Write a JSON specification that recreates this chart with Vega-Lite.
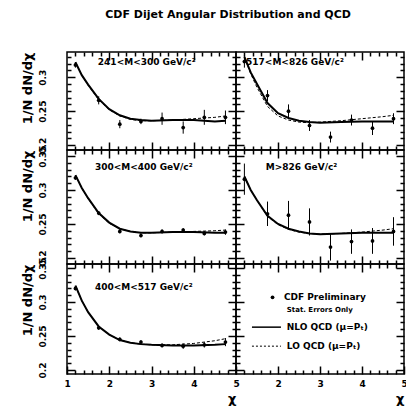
{
"$schema": "https://vega.github.io/schema/vega-lite/v6.json",
"background": "white",
"padding": {"left": 20, "top": 9, "right": 1, "bottom": 0},
"title": {"text": "CDF Dijet Angular Distribution and QCD", "fontSize": 11, "fontWeight": "bold", "offset": 28, "anchor": "middle", "dx": 14, "color": "black"},
"config": {"view": {"stroke": "black", "strokeWidth": 1.5}, "font": "DejaVu Sans", "axis": {"labelColor": "black", "titleColor": "black", "tickColor": "black", "grid": false, "tickWidth": 1.5, "domain": false}},
"datasets": {
"pts": [
{"p":1,"chi":1.2,"v":0.318,"e":0.004},{"p":1,"chi":1.75,"v":0.266,"e":0.006},{"p":1,"chi":2.25,"v":0.231,"e":0.006},{"p":1,"chi":2.75,"v":0.235,"e":0.004},{"p":1,"chi":3.25,"v":0.239,"e":0.009},{"p":1,"chi":3.75,"v":0.226,"e":0.009},{"p":1,"chi":4.25,"v":0.241,"e":0.011},{"p":1,"chi":4.75,"v":0.241,"e":0.01},
{"p":2,"chi":1.2,"v":0.323,"e":0.009},{"p":2,"chi":1.75,"v":0.273,"e":0.008},{"p":2,"chi":2.25,"v":0.25,"e":0.01},{"p":2,"chi":2.75,"v":0.229,"e":0.008},{"p":2,"chi":3.25,"v":0.212,"e":0.008},{"p":2,"chi":3.75,"v":0.237,"e":0.008},{"p":2,"chi":4.25,"v":0.225,"e":0.01},{"p":2,"chi":4.75,"v":0.239,"e":0.008},
{"p":3,"chi":1.2,"v":0.318,"e":0.003},{"p":3,"chi":1.75,"v":0.266,"e":0.003},{"p":3,"chi":2.25,"v":0.239,"e":0.003},{"p":3,"chi":2.75,"v":0.233,"e":0.003},{"p":3,"chi":3.25,"v":0.239,"e":0.003},{"p":3,"chi":3.75,"v":0.241,"e":0.003},{"p":3,"chi":4.25,"v":0.236,"e":0.003},{"p":3,"chi":4.75,"v":0.238,"e":0.004},
{"p":4,"chi":1.2,"v":0.316,"e":0.023},{"p":4,"chi":1.75,"v":0.265,"e":0.018},{"p":4,"chi":2.25,"v":0.263,"e":0.021},{"p":4,"chi":2.75,"v":0.253,"e":0.02},{"p":4,"chi":3.25,"v":0.216,"e":0.02},{"p":4,"chi":3.75,"v":0.224,"e":0.018},{"p":4,"chi":4.25,"v":0.225,"e":0.019},{"p":4,"chi":4.75,"v":0.239,"e":0.021},
{"p":5,"chi":1.2,"v":0.32,"e":0.003},{"p":5,"chi":1.75,"v":0.262,"e":0.003},{"p":5,"chi":2.25,"v":0.245,"e":0.003},{"p":5,"chi":2.75,"v":0.241,"e":0.003},{"p":5,"chi":3.25,"v":0.236,"e":0.003},{"p":5,"chi":3.75,"v":0.235,"e":0.004},{"p":5,"chi":4.25,"v":0.237,"e":0.004},{"p":5,"chi":4.75,"v":0.241,"e":0.006},
{"p":6,"chi":1.87,"v":0.307,"e":0}
],
"th": [
{"p":1,"chi":1.2,"nlo":0.322,"lo":0.322},{"p":1,"chi":1.35,"nlo":0.303,"lo":0.303},{"p":1,"chi":1.5,"nlo":0.289,"lo":0.288},{"p":1,"chi":1.75,"nlo":0.268,"lo":0.267},{"p":1,"chi":2.0,"nlo":0.253,"lo":0.252},{"p":1,"chi":2.25,"nlo":0.244,"lo":0.243},{"p":1,"chi":2.5,"nlo":0.239,"lo":0.238},{"p":1,"chi":2.75,"nlo":0.237,"lo":0.236},{"p":1,"chi":3.0,"nlo":0.236,"lo":0.236},{"p":1,"chi":3.5,"nlo":0.237,"lo":0.237},{"p":1,"chi":4.0,"nlo":0.237,"lo":0.239},{"p":1,"chi":4.5,"nlo":0.235,"lo":0.241},{"p":1,"chi":4.75,"nlo":0.236,"lo":0.243},
{"p":2,"chi":1.2,"nlo":0.33,"lo":0.33},{"p":2,"chi":1.35,"nlo":0.307,"lo":0.305},{"p":2,"chi":1.5,"nlo":0.29,"lo":0.285},{"p":2,"chi":1.75,"nlo":0.262,"lo":0.257},{"p":2,"chi":2.0,"nlo":0.247,"lo":0.243},{"p":2,"chi":2.25,"nlo":0.24,"lo":0.237},{"p":2,"chi":2.5,"nlo":0.236,"lo":0.234},{"p":2,"chi":2.75,"nlo":0.234,"lo":0.233},{"p":2,"chi":3.0,"nlo":0.233,"lo":0.234},{"p":2,"chi":3.5,"nlo":0.234,"lo":0.236},{"p":2,"chi":4.0,"nlo":0.235,"lo":0.239},{"p":2,"chi":4.5,"nlo":0.235,"lo":0.242},{"p":2,"chi":4.75,"nlo":0.235,"lo":0.244},
{"p":3,"chi":1.2,"nlo":0.322,"lo":0.322},{"p":3,"chi":1.35,"nlo":0.303,"lo":0.303},{"p":3,"chi":1.5,"nlo":0.288,"lo":0.287},{"p":3,"chi":1.75,"nlo":0.266,"lo":0.265},{"p":3,"chi":2.0,"nlo":0.252,"lo":0.251},{"p":3,"chi":2.25,"nlo":0.243,"lo":0.243},{"p":3,"chi":2.5,"nlo":0.239,"lo":0.239},{"p":3,"chi":2.75,"nlo":0.237,"lo":0.237},{"p":3,"chi":3.0,"nlo":0.237,"lo":0.237},{"p":3,"chi":3.5,"nlo":0.238,"lo":0.238},{"p":3,"chi":4.0,"nlo":0.238,"lo":0.239},{"p":3,"chi":4.5,"nlo":0.237,"lo":0.24},{"p":3,"chi":4.75,"nlo":0.237,"lo":0.241},
{"p":4,"chi":1.2,"nlo":0.32,"lo":0.32},{"p":4,"chi":1.35,"nlo":0.3,"lo":0.3},{"p":4,"chi":1.5,"nlo":0.285,"lo":0.285},{"p":4,"chi":1.75,"nlo":0.262,"lo":0.261},{"p":4,"chi":2.0,"nlo":0.25,"lo":0.249},{"p":4,"chi":2.25,"nlo":0.243,"lo":0.242},{"p":4,"chi":2.5,"nlo":0.239,"lo":0.238},{"p":4,"chi":2.75,"nlo":0.236,"lo":0.236},{"p":4,"chi":3.0,"nlo":0.235,"lo":0.235},{"p":4,"chi":3.5,"nlo":0.236,"lo":0.236},{"p":4,"chi":4.0,"nlo":0.237,"lo":0.238},{"p":4,"chi":4.5,"nlo":0.237,"lo":0.241},{"p":4,"chi":4.75,"nlo":0.237,"lo":0.243},
{"p":5,"chi":1.2,"nlo":0.324,"lo":0.324},{"p":5,"chi":1.35,"nlo":0.302,"lo":0.302},{"p":5,"chi":1.5,"nlo":0.285,"lo":0.285},{"p":5,"chi":1.75,"nlo":0.264,"lo":0.264},{"p":5,"chi":2.0,"nlo":0.252,"lo":0.252},{"p":5,"chi":2.25,"nlo":0.244,"lo":0.244},{"p":5,"chi":2.5,"nlo":0.24,"lo":0.24},{"p":5,"chi":2.75,"nlo":0.238,"lo":0.238},{"p":5,"chi":3.0,"nlo":0.237,"lo":0.237},{"p":5,"chi":3.5,"nlo":0.236,"lo":0.237},{"p":5,"chi":4.0,"nlo":0.236,"lo":0.239},{"p":5,"chi":4.5,"nlo":0.237,"lo":0.243},{"p":5,"chi":4.75,"nlo":0.238,"lo":0.246},
{"p":6,"chi":1.38,"nlo":0.263,"lo":0.235},{"p":6,"chi":2.07,"nlo":0.263,"lo":0.235}
],
"lab": [
{"p":1,"chi":1.73,"y":0.322,"t":"241<M<300 GeV/c²"},
{"p":2,"chi":1.24,"y":0.322,"t":"517<M<826 GeV/c²"},
{"p":3,"chi":1.66,"y":0.334,"t":"300<M<400 GeV/c²"},
{"p":4,"chi":1.71,"y":0.334,"t":"M>826 GeV/c²"},
{"p":5,"chi":1.66,"y":0.322,"t":"400<M<517 GeV/c²"},
{"p":6,"chi":2.14,"y":0.307,"t":"CDF Preliminary"},
{"p":6,"chi":2.21,"y":0.263,"t":"NLO QCD (μ=Pₜ)"},
{"p":6,"chi":2.21,"y":0.235,"t":"LO QCD (μ=Pₜ)"}
],
"note": [
{"p":6,"chi":2.21,"y":0.288,"t":"Stat. Errors Only"}
]
},
"concat": [
{"width":169,"height":98,"resolve":{"axis":{"x":"independent","y":"independent"}},"layer":[
{"data":{"name":"pts"},"transform":[{"filter":"datum.p==1"}],"mark":{"type":"errorbar","color":"black","thickness":1},"encoding":{"x":{"field":"chi","type":"quantitative","scale":{"domain":[1,5],"nice":false,"zero":false},"axis":null},"y":{"field":"v","type":"quantitative","scale":{"domain":[0.193,0.337],"nice":false,"zero":false},"axis":null},"yError":{"field":"e"}}},
{"data":{"name":"pts"},"transform":[{"filter":"datum.p==1"}],"mark":{"type":"point","filled":true,"size":14,"color":"black","opacity":1},"encoding":{"x":{"field":"chi","type":"quantitative","axis":{"orient":"bottom","values":[2,3,4],"tickSize":8,"offset":-8,"labelExpr":"''","labelFontSize":1,"title":""}},"y":{"field":"v","type":"quantitative","axis":{"orient":"left","values":[0.2,0.25,0.3],"format":".2~f","tickSize":8,"offset":-8,"labelAngle":270,"labelAlign":"center","labelBaseline":"bottom","labelPadding":20,"labelFontSize":9,"labelFontWeight":"bold","labelOverlap":false,"labelFlush":false,"title":"1/N dN/dχ","titleAnchor":"end","titleFontSize":13,"titleFontWeight":"bold","titlePadding":4}}}},
{"data":{"name":"th"},"transform":[{"filter":"datum.p==1"}],"mark":{"type":"line","color":"black","strokeWidth":2},"encoding":{"x":{"field":"chi","type":"quantitative","axis":{"orient":"bottom","values":[1.2,1.4,1.6,1.8,2.2,2.4,2.6,2.8,3.2,3.4,3.6,3.8,4.2,4.4,4.6,4.8],"tickSize":4,"offset":-4,"labelExpr":"''","labelFontSize":1,"title":""}},"y":{"field":"nlo","type":"quantitative","axis":{"orient":"left","values":[0.21,0.22,0.23,0.24,0.26,0.27,0.28,0.29,0.31,0.32,0.33],"tickSize":4,"offset":-4,"labelExpr":"''","labelFontSize":1,"title":""}}}},
{"data":{"name":"th"},"transform":[{"filter":"datum.p==1"}],"mark":{"type":"line","color":"black","strokeWidth":1,"strokeDash":[3,2]},"encoding":{"x":{"field":"chi","type":"quantitative","axis":{"orient":"top","values":[1.2,1.4,1.6,1.8,2.2,2.4,2.6,2.8,3.2,3.4,3.6,3.8,4.2,4.4,4.6,4.8],"tickSize":4,"offset":-4,"labelExpr":"''","labelFontSize":1,"title":""}},"y":{"field":"lo","type":"quantitative","axis":{"orient":"right","values":[0.21,0.22,0.23,0.24,0.26,0.27,0.28,0.29,0.31,0.32,0.33],"tickSize":4,"offset":-4,"labelExpr":"''","labelFontSize":1,"title":""}}}},
{"data":{"name":"lab"},"transform":[{"filter":"datum.p==1"}],"mark":{"type":"text","align":"left","baseline":"middle","fontSize":9,"fontWeight":"bold","color":"black"},"encoding":{"x":{"field":"chi","type":"quantitative","axis":{"orient":"top","values":[2,3,4],"tickSize":8,"offset":-8,"labelExpr":"''","labelFontSize":1,"title":""}},"y":{"field":"y","type":"quantitative","axis":{"orient":"right","values":[0.2,0.25,0.3],"tickSize":8,"offset":-8,"labelExpr":"''","labelFontSize":1,"title":""}},"text":{"field":"t"}}}
]},
{"width":168,"height":98,"resolve":{"axis":{"x":"independent","y":"independent"}},"layer":[
{"data":{"name":"pts"},"transform":[{"filter":"datum.p==2"}],"mark":{"type":"errorbar","color":"black","thickness":1},"encoding":{"x":{"field":"chi","type":"quantitative","scale":{"domain":[1,5],"nice":false,"zero":false},"axis":null},"y":{"field":"v","type":"quantitative","scale":{"domain":[0.193,0.337],"nice":false,"zero":false},"axis":null},"yError":{"field":"e"}}},
{"data":{"name":"pts"},"transform":[{"filter":"datum.p==2"}],"mark":{"type":"point","filled":true,"size":14,"color":"black","opacity":1},"encoding":{"x":{"field":"chi","type":"quantitative","axis":{"orient":"bottom","values":[2,3,4],"tickSize":8,"offset":-8,"labelExpr":"''","labelFontSize":1,"title":""}},"y":{"field":"v","type":"quantitative","axis":{"orient":"left","values":[0.2,0.25,0.3],"tickSize":8,"offset":-8,"labelExpr":"''","labelFontSize":1,"title":""}}}},
{"data":{"name":"th"},"transform":[{"filter":"datum.p==2"}],"mark":{"type":"line","color":"black","strokeWidth":2},"encoding":{"x":{"field":"chi","type":"quantitative","axis":{"orient":"bottom","values":[1.2,1.4,1.6,1.8,2.2,2.4,2.6,2.8,3.2,3.4,3.6,3.8,4.2,4.4,4.6,4.8],"tickSize":4,"offset":-4,"labelExpr":"''","labelFontSize":1,"title":""}},"y":{"field":"nlo","type":"quantitative","axis":{"orient":"left","values":[0.21,0.22,0.23,0.24,0.26,0.27,0.28,0.29,0.31,0.32,0.33],"tickSize":4,"offset":-4,"labelExpr":"''","labelFontSize":1,"title":""}}}},
{"data":{"name":"th"},"transform":[{"filter":"datum.p==2"}],"mark":{"type":"line","color":"black","strokeWidth":1,"strokeDash":[3,2]},"encoding":{"x":{"field":"chi","type":"quantitative","axis":{"orient":"top","values":[1.2,1.4,1.6,1.8,2.2,2.4,2.6,2.8,3.2,3.4,3.6,3.8,4.2,4.4,4.6,4.8],"tickSize":4,"offset":-4,"labelExpr":"''","labelFontSize":1,"title":""}},"y":{"field":"lo","type":"quantitative","axis":{"orient":"right","values":[0.21,0.22,0.23,0.24,0.26,0.27,0.28,0.29,0.31,0.32,0.33],"tickSize":4,"offset":-4,"labelExpr":"''","labelFontSize":1,"title":""}}}},
{"data":{"name":"lab"},"transform":[{"filter":"datum.p==2"}],"mark":{"type":"text","align":"left","baseline":"middle","fontSize":9,"fontWeight":"bold","color":"black"},"encoding":{"x":{"field":"chi","type":"quantitative","axis":{"orient":"top","values":[2,3,4],"tickSize":8,"offset":-8,"labelExpr":"''","labelFontSize":1,"title":""}},"y":{"field":"y","type":"quantitative","axis":{"orient":"right","values":[0.2,0.25,0.3],"tickSize":8,"offset":-8,"labelExpr":"''","labelFontSize":1,"title":""}},"text":{"field":"t"}}}
]},
{"width":169,"height":114,"resolve":{"axis":{"x":"independent","y":"independent"}},"layer":[
{"data":{"name":"pts"},"transform":[{"filter":"datum.p==3"}],"mark":{"type":"errorbar","color":"black","thickness":1},"encoding":{"x":{"field":"chi","type":"quantitative","scale":{"domain":[1,5],"nice":false,"zero":false},"axis":null},"y":{"field":"v","type":"quantitative","scale":{"domain":[0.191,0.359],"nice":false,"zero":false},"axis":null},"yError":{"field":"e"}}},
{"data":{"name":"pts"},"transform":[{"filter":"datum.p==3"}],"mark":{"type":"point","filled":true,"size":14,"color":"black","opacity":1},"encoding":{"x":{"field":"chi","type":"quantitative","axis":{"orient":"bottom","values":[2,3,4],"tickSize":8,"offset":-8,"labelExpr":"''","labelFontSize":1,"title":""}},"y":{"field":"v","type":"quantitative","axis":{"orient":"left","values":[0.2,0.25,0.3,0.35],"format":".2~f","tickSize":8,"offset":-8,"labelAngle":270,"labelAlign":"center","labelBaseline":"bottom","labelPadding":20,"labelFontSize":9,"labelFontWeight":"bold","labelOverlap":false,"labelFlush":false,"title":"1/N dN/dχ","titleAnchor":"end","titleFontSize":13,"titleFontWeight":"bold","titlePadding":4}}}},
{"data":{"name":"th"},"transform":[{"filter":"datum.p==3"}],"mark":{"type":"line","color":"black","strokeWidth":2},"encoding":{"x":{"field":"chi","type":"quantitative","axis":{"orient":"bottom","values":[1.2,1.4,1.6,1.8,2.2,2.4,2.6,2.8,3.2,3.4,3.6,3.8,4.2,4.4,4.6,4.8],"tickSize":4,"offset":-4,"labelExpr":"''","labelFontSize":1,"title":""}},"y":{"field":"nlo","type":"quantitative","axis":{"orient":"left","values":[0.21,0.22,0.23,0.24,0.26,0.27,0.28,0.29,0.31,0.32,0.33,0.34],"tickSize":4,"offset":-4,"labelExpr":"''","labelFontSize":1,"title":""}}}},
{"data":{"name":"th"},"transform":[{"filter":"datum.p==3"}],"mark":{"type":"line","color":"black","strokeWidth":1,"strokeDash":[3,2]},"encoding":{"x":{"field":"chi","type":"quantitative","axis":{"orient":"top","values":[1.2,1.4,1.6,1.8,2.2,2.4,2.6,2.8,3.2,3.4,3.6,3.8,4.2,4.4,4.6,4.8],"tickSize":4,"offset":-4,"labelExpr":"''","labelFontSize":1,"title":""}},"y":{"field":"lo","type":"quantitative","axis":{"orient":"right","values":[0.21,0.22,0.23,0.24,0.26,0.27,0.28,0.29,0.31,0.32,0.33,0.34],"tickSize":4,"offset":-4,"labelExpr":"''","labelFontSize":1,"title":""}}}},
{"data":{"name":"lab"},"transform":[{"filter":"datum.p==3"}],"mark":{"type":"text","align":"left","baseline":"middle","fontSize":9,"fontWeight":"bold","color":"black"},"encoding":{"x":{"field":"chi","type":"quantitative","axis":{"orient":"top","values":[2,3,4],"tickSize":8,"offset":-8,"labelExpr":"''","labelFontSize":1,"title":""}},"y":{"field":"y","type":"quantitative","axis":{"orient":"right","values":[0.2,0.25,0.3,0.35],"tickSize":8,"offset":-8,"labelExpr":"''","labelFontSize":1,"title":""}},"text":{"field":"t"}}}
]},
{"width":168,"height":114,"resolve":{"axis":{"x":"independent","y":"independent"}},"layer":[
{"data":{"name":"pts"},"transform":[{"filter":"datum.p==4"}],"mark":{"type":"errorbar","color":"black","thickness":1},"encoding":{"x":{"field":"chi","type":"quantitative","scale":{"domain":[1,5],"nice":false,"zero":false},"axis":null},"y":{"field":"v","type":"quantitative","scale":{"domain":[0.191,0.359],"nice":false,"zero":false},"axis":null},"yError":{"field":"e"}}},
{"data":{"name":"pts"},"transform":[{"filter":"datum.p==4"}],"mark":{"type":"point","filled":true,"size":14,"color":"black","opacity":1},"encoding":{"x":{"field":"chi","type":"quantitative","axis":{"orient":"bottom","values":[2,3,4],"tickSize":8,"offset":-8,"labelExpr":"''","labelFontSize":1,"title":""}},"y":{"field":"v","type":"quantitative","axis":{"orient":"left","values":[0.2,0.25,0.3,0.35],"tickSize":8,"offset":-8,"labelExpr":"''","labelFontSize":1,"title":""}}}},
{"data":{"name":"th"},"transform":[{"filter":"datum.p==4"}],"mark":{"type":"line","color":"black","strokeWidth":2},"encoding":{"x":{"field":"chi","type":"quantitative","axis":{"orient":"bottom","values":[1.2,1.4,1.6,1.8,2.2,2.4,2.6,2.8,3.2,3.4,3.6,3.8,4.2,4.4,4.6,4.8],"tickSize":4,"offset":-4,"labelExpr":"''","labelFontSize":1,"title":""}},"y":{"field":"nlo","type":"quantitative","axis":{"orient":"left","values":[0.21,0.22,0.23,0.24,0.26,0.27,0.28,0.29,0.31,0.32,0.33,0.34],"tickSize":4,"offset":-4,"labelExpr":"''","labelFontSize":1,"title":""}}}},
{"data":{"name":"th"},"transform":[{"filter":"datum.p==4"}],"mark":{"type":"line","color":"black","strokeWidth":1,"strokeDash":[3,2]},"encoding":{"x":{"field":"chi","type":"quantitative","axis":{"orient":"top","values":[1.2,1.4,1.6,1.8,2.2,2.4,2.6,2.8,3.2,3.4,3.6,3.8,4.2,4.4,4.6,4.8],"tickSize":4,"offset":-4,"labelExpr":"''","labelFontSize":1,"title":""}},"y":{"field":"lo","type":"quantitative","axis":{"orient":"right","values":[0.21,0.22,0.23,0.24,0.26,0.27,0.28,0.29,0.31,0.32,0.33,0.34],"tickSize":4,"offset":-4,"labelExpr":"''","labelFontSize":1,"title":""}}}},
{"data":{"name":"lab"},"transform":[{"filter":"datum.p==4"}],"mark":{"type":"text","align":"left","baseline":"middle","fontSize":9,"fontWeight":"bold","color":"black"},"encoding":{"x":{"field":"chi","type":"quantitative","axis":{"orient":"top","values":[2,3,4],"tickSize":8,"offset":-8,"labelExpr":"''","labelFontSize":1,"title":""}},"y":{"field":"y","type":"quantitative","axis":{"orient":"right","values":[0.2,0.25,0.3,0.35],"tickSize":8,"offset":-8,"labelExpr":"''","labelFontSize":1,"title":""}},"text":{"field":"t"}}}
]},
{"width":169,"height":110,"resolve":{"axis":{"x":"independent","y":"independent"}},"layer":[
{"data":{"name":"pts"},"transform":[{"filter":"datum.p==5"}],"mark":{"type":"errorbar","color":"black","thickness":1},"encoding":{"x":{"field":"chi","type":"quantitative","scale":{"domain":[1,5],"nice":false,"zero":false},"axis":null},"y":{"field":"v","type":"quantitative","scale":{"domain":[0.194,0.356],"nice":false,"zero":false},"axis":null},"yError":{"field":"e"}}},
{"data":{"name":"pts"},"transform":[{"filter":"datum.p==5"}],"mark":{"type":"point","filled":true,"size":14,"color":"black","opacity":1},"encoding":{"x":{"field":"chi","type":"quantitative","axis":{"orient":"bottom","values":[1,2,3,4,5],"format":"d","tickSize":8,"offset":-8,"labelPadding":5,"labelFontSize":9,"labelFontWeight":"bold","labelFlush":false,"labelOverlap":false,"title":"χ","titleAnchor":"end","titleFontSize":13,"titleFontWeight":"bold","titlePadding":4}},"y":{"field":"v","type":"quantitative","axis":{"orient":"left","values":[0.2,0.25,0.3,0.35],"format":".2~f","tickSize":8,"offset":-8,"labelAngle":270,"labelAlign":"center","labelBaseline":"bottom","labelPadding":20,"labelFontSize":9,"labelFontWeight":"bold","labelOverlap":false,"labelFlush":false,"title":"1/N dN/dχ","titleAnchor":"end","titleFontSize":13,"titleFontWeight":"bold","titlePadding":4}}}},
{"data":{"name":"th"},"transform":[{"filter":"datum.p==5"}],"mark":{"type":"line","color":"black","strokeWidth":2},"encoding":{"x":{"field":"chi","type":"quantitative","axis":{"orient":"bottom","values":[1.2,1.4,1.6,1.8,2.2,2.4,2.6,2.8,3.2,3.4,3.6,3.8,4.2,4.4,4.6,4.8],"tickSize":4,"offset":-4,"labelExpr":"''","labelFontSize":1,"title":""}},"y":{"field":"nlo","type":"quantitative","axis":{"orient":"left","values":[0.21,0.22,0.23,0.24,0.26,0.27,0.28,0.29,0.31,0.32,0.33,0.34],"tickSize":4,"offset":-4,"labelExpr":"''","labelFontSize":1,"title":""}}}},
{"data":{"name":"th"},"transform":[{"filter":"datum.p==5"}],"mark":{"type":"line","color":"black","strokeWidth":1,"strokeDash":[3,2]},"encoding":{"x":{"field":"chi","type":"quantitative","axis":{"orient":"top","values":[1.2,1.4,1.6,1.8,2.2,2.4,2.6,2.8,3.2,3.4,3.6,3.8,4.2,4.4,4.6,4.8],"tickSize":4,"offset":-4,"labelExpr":"''","labelFontSize":1,"title":""}},"y":{"field":"lo","type":"quantitative","axis":{"orient":"right","values":[0.21,0.22,0.23,0.24,0.26,0.27,0.28,0.29,0.31,0.32,0.33,0.34],"tickSize":4,"offset":-4,"labelExpr":"''","labelFontSize":1,"title":""}}}},
{"data":{"name":"lab"},"transform":[{"filter":"datum.p==5"}],"mark":{"type":"text","align":"left","baseline":"middle","fontSize":9,"fontWeight":"bold","color":"black"},"encoding":{"x":{"field":"chi","type":"quantitative","axis":{"orient":"top","values":[2,3,4],"tickSize":8,"offset":-8,"labelExpr":"''","labelFontSize":1,"title":""}},"y":{"field":"y","type":"quantitative","axis":{"orient":"right","values":[0.2,0.25,0.3,0.35],"tickSize":8,"offset":-8,"labelExpr":"''","labelFontSize":1,"title":""}},"text":{"field":"t"}}}
]},
{"width":168,"height":110,"resolve":{"axis":{"x":"independent","y":"independent"}},"layer":[
{"data":{"name":"pts"},"transform":[{"filter":"datum.p==6"}],"mark":{"type":"point","filled":true,"size":14,"color":"black","opacity":1},"encoding":{"x":{"field":"chi","type":"quantitative","scale":{"domain":[1,5],"nice":false,"zero":false},"axis":{"orient":"bottom","values":[2,3,4,5],"format":"d","tickSize":8,"offset":-8,"labelPadding":5,"labelFontSize":9,"labelFontWeight":"bold","labelFlush":false,"labelOverlap":false,"title":"χ","titleAnchor":"end","titleFontSize":13,"titleFontWeight":"bold","titlePadding":4}},"y":{"field":"v","type":"quantitative","scale":{"domain":[0.194,0.356],"nice":false,"zero":false},"axis":{"orient":"left","values":[0.2,0.25,0.3,0.35],"tickSize":8,"offset":-8,"labelExpr":"''","labelFontSize":1,"title":""}}}},
{"data":{"name":"th"},"transform":[{"filter":"datum.p==6"}],"mark":{"type":"line","color":"black","strokeWidth":1.5},"encoding":{"x":{"field":"chi","type":"quantitative","axis":{"orient":"bottom","values":[1.2,1.4,1.6,1.8,2.2,2.4,2.6,2.8,3.2,3.4,3.6,3.8,4.2,4.4,4.6,4.8],"tickSize":4,"offset":-4,"labelExpr":"''","labelFontSize":1,"title":""}},"y":{"field":"nlo","type":"quantitative","axis":{"orient":"left","values":[0.21,0.22,0.23,0.24,0.26,0.27,0.28,0.29,0.31,0.32,0.33,0.34],"tickSize":4,"offset":-4,"labelExpr":"''","labelFontSize":1,"title":""}}}},
{"data":{"name":"th"},"transform":[{"filter":"datum.p==6"}],"mark":{"type":"line","color":"black","strokeWidth":1,"strokeDash":[2,2]},"encoding":{"x":{"field":"chi","type":"quantitative","axis":{"orient":"top","values":[1.2,1.4,1.6,1.8,2.2,2.4,2.6,2.8,3.2,3.4,3.6,3.8,4.2,4.4,4.6,4.8],"tickSize":4,"offset":-4,"labelExpr":"''","labelFontSize":1,"title":""}},"y":{"field":"lo","type":"quantitative","axis":{"orient":"right","values":[0.21,0.22,0.23,0.24,0.26,0.27,0.28,0.29,0.31,0.32,0.33,0.34],"tickSize":4,"offset":-4,"labelExpr":"''","labelFontSize":1,"title":""}}}},
{"data":{"name":"lab"},"transform":[{"filter":"datum.p==6"}],"mark":{"type":"text","align":"left","baseline":"middle","fontSize":9,"fontWeight":"bold","color":"black"},"encoding":{"x":{"field":"chi","type":"quantitative","axis":{"orient":"top","values":[2,3,4],"tickSize":8,"offset":-8,"labelExpr":"''","labelFontSize":1,"title":""}},"y":{"field":"y","type":"quantitative","axis":{"orient":"right","values":[0.2,0.25,0.3,0.35],"tickSize":8,"offset":-8,"labelExpr":"''","labelFontSize":1,"title":""}},"text":{"field":"t"}}},
{"data":{"name":"note"},"transform":[{"filter":"datum.p==6"}],"mark":{"type":"text","align":"left","baseline":"middle","fontSize":7,"fontWeight":"bold","color":"black"},"encoding":{"x":{"field":"chi","type":"quantitative","axis":null},"y":{"field":"y","type":"quantitative","axis":null},"text":{"field":"t"}}}
]}
],
"columns": 2,
"spacing": 0,
"bounds": "flush"
}
